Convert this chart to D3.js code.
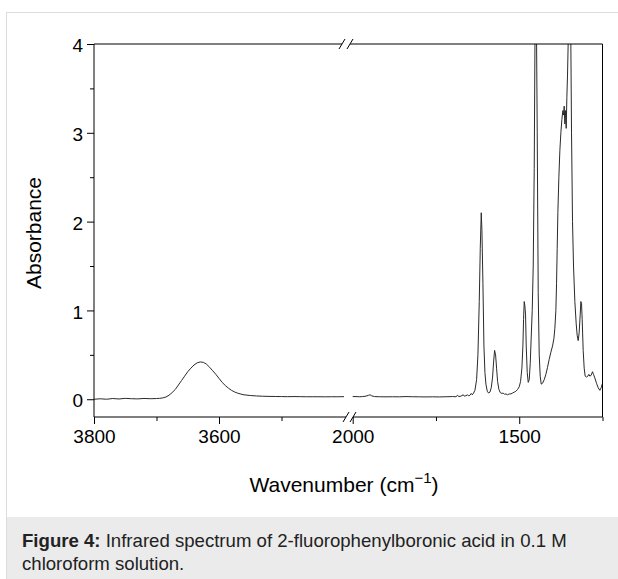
<!DOCTYPE html>
<html>
<head>
<meta charset="utf-8">
<script src="https://cdn.jsdelivr.net/npm/d3@7/dist/d3.min.js"></script>
<style>
  html, body { margin: 0; padding: 0; background: #fff; }
  svg { display: block; }
  text { font-family: "Liberation Sans", Arial, Helvetica, sans-serif; }
</style>
</head>
<body>
<svg id="chart" width="618" height="579"></svg>
<script>
// ---- data ----
const wnHigh = [3800,3790,3780,3770,3760,3750,3740,3730,3720,3710,3700,3695,3690,3685,3680,3675,3670,3665,3660,3655,3650,3645,3640,3635,3630,3625,3620,3615,3610,3605,3600,3595,3590,3585,3580,3575,3570,3565,3560,3550,3540,3530,3520,3510,3500,3490,3480,3470,3460,3450,3440,3430,3420,3410,3400];
const absHigh = [0.000,0.005,0.000,0.008,0.003,0.010,0.006,0.004,0.009,0.006,0.008,0.010,0.015,0.025,0.045,0.075,0.110,0.160,0.210,0.260,0.310,0.350,0.385,0.410,0.420,0.415,0.395,0.360,0.320,0.280,0.235,0.190,0.155,0.125,0.100,0.082,0.068,0.058,0.050,0.042,0.037,0.034,0.032,0.031,0.030,0.029,0.030,0.029,0.028,0.028,0.028,0.027,0.028,0.028,0.029];

const wnLow = [2000,1990,1980,1970,1960,1952,1948,1944,1935,1920,1900,1880,1860,1840,1820,1800,1780,1760,1740,1720,1700,1690,1685,1682,1675,1668,1665,1660,1655,1652,1648,1644,1641,1637,1633,1628,1624,1620,1617,1614,1612,1609,1606,1603,1600,1596,1592,1588,1584,1580,1577,1574,1571,1568,1565,1561,1557,1552,1548,1544,1540,1535,1530,1525,1520,1515,1510,1505,1500,1496,1492,1489,1487,1485,1483,1481,1479,1476,1473,1470,1467,1464,1461,1458,1455,1452,1449,1446,1443,1440,1437,1434,1430,1425,1420,1415,1410,1405,1400,1396,1393,1390,1388,1386,1384,1381,1378,1375,1372,1369,1367,1365,1363,1361,1359,1357,1355,1352,1349,1346,1343,1340,1337,1333,1329,1326,1323,1320,1317,1315,1313,1311,1308,1305,1302,1298,1294,1291,1288,1284,1280,1277,1273,1268,1263,1258,1254,1250];
const absLow = [0.030,0.030,0.028,0.030,0.035,0.045,0.050,0.040,0.030,0.028,0.027,0.028,0.027,0.030,0.028,0.027,0.026,0.027,0.026,0.028,0.030,0.028,0.045,0.030,0.035,0.050,0.035,0.040,0.050,0.038,0.045,0.065,0.050,0.070,0.100,0.220,0.500,1.100,1.700,2.100,1.900,1.300,0.600,0.300,0.170,0.090,0.070,0.080,0.130,0.250,0.420,0.550,0.500,0.350,0.200,0.110,0.075,0.065,0.070,0.055,0.060,0.050,0.060,0.060,0.070,0.080,0.090,0.110,0.140,0.200,0.350,0.600,0.900,1.100,1.050,0.950,0.600,0.300,0.190,0.220,0.400,0.700,1.000,1.500,2.600,4.500,4.600,3.000,1.200,0.500,0.260,0.170,0.180,0.220,0.280,0.360,0.450,0.530,0.600,0.680,0.800,1.000,1.300,1.700,2.100,2.500,2.800,3.000,3.150,3.250,3.200,3.300,3.100,3.250,3.050,3.400,3.650,4.200,4.600,4.500,3.000,2.000,1.500,1.100,0.850,0.720,0.660,0.750,0.950,1.100,1.080,0.900,0.550,0.350,0.260,0.250,0.260,0.280,0.260,0.270,0.310,0.280,0.240,0.180,0.130,0.100,0.130,0.180];

const xMajor = [3800, 3600, 2000, 1500];
const xMinor = [3700, 3500, 1750, 1250];
const yMajor = [0, 1, 2, 3, 4];
const yMinor = [0.5, 1.5, 2.5, 3.5];

const yTitle = "Absorbance";
const xTitle = "Wavenumber (cm";
const xTitleSup = "\u22121";
const captionBold = "Figure 4:";
const captionLine1 = " Infrared spectrum of 2-fluorophenylboronic acid in 0.1 M";
const captionLine2 = "chloroform solution.";

// ---- layout ----
const L = 94, R = 602.5, T = 44, B = 417;
const breakL = 344, breakR = 352.7;

const svg = d3.select("#chart");

// card frame and caption band
svg.append("rect").attr("x", 6.5).attr("y", 12.5).attr("width", 640).attr("height", 600)
  .attr("fill", "#fff").attr("stroke", "#dcdcdc").attr("stroke-width", 1);
svg.append("rect").attr("x", 7).attr("y", 517).attr("width", 611).attr("height", 62)
  .attr("fill", "#ebebeb");

const x = d3.scaleLinear().domain([3800, 3400, 2000, 1250]).range([L, breakL, breakR, R]);
const y = d3.scaleLinear().domain([-0.2, 4]).range([B, T]);

// clip
svg.append("clipPath").attr("id", "clip").append("rect")
  .attr("x", L).attr("y", T).attr("width", R - L).attr("height", B - T);

const line = d3.line().x(d => x(d[0])).y(d => y(d[1]));
const seg1 = wnHigh.map((w, i) => [w, absHigh[i]]);
const seg2 = wnLow.map((w, i) => [w, absLow[i]]);
const g = svg.append("g").attr("clip-path", "url(#clip)");
[seg1, seg2].forEach(s => {
  g.append("path").datum(s).attr("d", line)
    .attr("fill", "none").attr("stroke", "#2a2a2a").attr("stroke-width", 1)
    .attr("stroke-linejoin", "round");
});

// axes (ticks + labels)
const xAxisMajor = d3.axisBottom(x).tickValues(xMajor).tickSize(7).tickSizeOuter(0).tickPadding(6).tickFormat(d3.format("d"));
const xAxisMinor = d3.axisBottom(x).tickValues(xMinor).tickSize(4).tickSizeOuter(0).tickFormat("");
const yAxisMajor = d3.axisLeft(y).tickValues(yMajor).tickSize(7).tickSizeOuter(0).tickPadding(4).tickFormat(d3.format("d"));
const yAxisMinor = d3.axisLeft(y).tickValues(yMinor).tickSize(4).tickSizeOuter(0).tickFormat("");

function style(sel) {
  sel.select(".domain").remove();
  sel.selectAll("line").attr("stroke", "#000").attr("stroke-width", 1);
  sel.selectAll("text").attr("font-size", 19).attr("fill", "#000")
    .attr("font-family", "'Liberation Sans', Arial, sans-serif");
}
svg.append("g").attr("transform", `translate(0,${B})`).call(xAxisMajor).call(style);
svg.append("g").attr("transform", `translate(0,${B})`).call(xAxisMinor).call(style);
svg.append("g").attr("transform", `translate(${L},0)`).call(yAxisMajor).call(style)
  .selectAll("text").attr("dy", "0.40em");
svg.append("g").attr("transform", `translate(${L},0)`).call(yAxisMinor).call(style);

// frame with breaks
const frame = svg.append("g").attr("stroke", "#000").attr("stroke-width", 1).attr("fill", "none");
const topBreak = [342, 350];
const botBreak = [346, 353];
frame.append("path").attr("d", `M${L},${B}V${T}H${topBreak[0]}`);
frame.append("path").attr("d", `M${topBreak[1]},${T}H${R}V${B}H${botBreak[1]}`);
frame.append("path").attr("d", `M${L},${B}H${botBreak[0]}`);
[[topBreak, T], [botBreak, B]].forEach(([xs, yy]) => {
  xs.forEach(xx => {
    frame.append("line").attr("x1", xx - 3).attr("y1", yy + 5).attr("x2", xx + 3).attr("y2", yy - 5);
  });
});

// axis titles
svg.append("text").attr("transform", "translate(41,233) rotate(-90)")
  .attr("text-anchor", "middle").attr("font-size", 21).attr("fill", "#000").text(yTitle);
const xt = svg.append("text").attr("x", 344).attr("y", 492).attr("text-anchor", "middle")
  .attr("font-size", 21).attr("fill", "#000");
xt.append("tspan").text(xTitle);
xt.append("tspan").attr("font-size", 15).attr("dy", -9).text(xTitleSup);
xt.append("tspan").attr("dy", 9).text(")");

// caption
const c1 = svg.append("text").attr("x", 22).attr("y", 547).attr("font-size", 18.6).attr("fill", "#222");
c1.append("tspan").attr("font-weight", "bold").text(captionBold);
c1.append("tspan").text(captionLine1);
svg.append("text").attr("x", 22).attr("y", 570).attr("font-size", 18.6).attr("fill", "#222").text(captionLine2);
</script>
</body>
</html>
